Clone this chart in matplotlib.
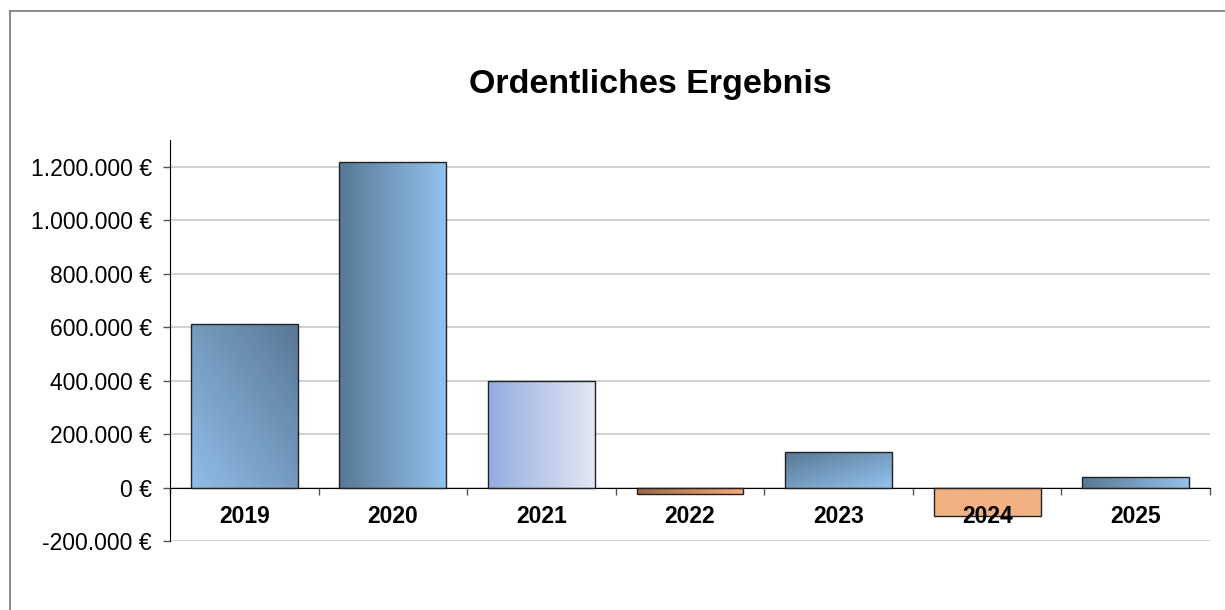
import matplotlib
matplotlib.use('Agg')
import matplotlib.pyplot as plt
import matplotlib.colors as mc
import numpy as np
from matplotlib.lines import Line2D
from matplotlib.ticker import FuncFormatter, MultipleLocator

plt.rcParams['font.family'] = ['Liberation Sans', 'DejaVu Sans']

# data
years = ['2019', '2020', '2021', '2022', '2023', '2024', '2025']
ergebnis = [612000, 1216000, 400000, -25000, 133000, -108000, 40000]

# gradient per bar: (start colour, end colour, direction dx, dy)
# direction points from start colour to end colour
fills = [
    ('#8fbde6', '#5a7898', (1, 1)),
    ('#587896', '#92c2ec', (1, 0)),
    ('#92ade0', '#e2e7f3', (1, 0)),
    ('#9a6a48', '#f8aa7a', (1, 0)),
    ('#587896', '#92c2ec', (1, -1)),
    ('#f2b183', '#f2b183', (1, 0)),
    ('#587896', '#92c2ec', (1, 0)),
]


def euro_fmt(v, pos):
    s = '{:,.0f}'.format(v).replace(',', '.')
    return s + ' \u20ac'


def gradient_image(c0, c1, direction, n=64):
    # t runs 0..1 along the direction, image row 0 is the top
    u = np.linspace(0, 1, n)
    xx, yy = np.meshgrid(u, u[::-1])
    dx, dy = direction
    t = xx * dx + yy * dy
    t = (t - t.min()) / max(t.max() - t.min(), 1e-9)
    a = np.array(mc.to_rgb(c0))
    b = np.array(mc.to_rgb(c1))
    return a + (b - a) * t[:, :, None]


fig = plt.figure(figsize=[12.25, 6.1], dpi=100)
ax = fig.add_axes([170 / 1225, 1 - 541 / 610, 1040 / 1225, 401 / 610])

x = np.arange(len(years))
bars = ax.bar(x, ergebnis, width=0.72, facecolor='none',
              edgecolor='#222222', linewidth=1.0, zorder=3)

for bar, (c0, c1, d) in zip(bars, fills):
    x0 = bar.get_x()
    x1 = x0 + bar.get_width()
    y0 = min(0, bar.get_height())
    y1 = max(0, bar.get_height())
    im = ax.imshow(gradient_image(c0, c1, d), extent=(x0, x1, y0, y1),
                   aspect='auto', interpolation='bilinear', zorder=2)
    im.set_clip_path(bar)

ax.set_xlim(-0.5, len(years) - 0.5)
ax.set_ylim(-200000, 1300000)
ax.yaxis.set_major_locator(MultipleLocator(200000))
ax.yaxis.set_major_formatter(FuncFormatter(euro_fmt))
ax.set_yticks(np.arange(-200000, 1200001, 200000))
ax.set_axisbelow(True)
ax.grid(axis='y', color='#c8c8c8', linewidth=1.2)
ax.tick_params(axis='y', direction='out', length=5, width=1, color='#555555',
               pad=8, labelsize=16.5)

# category boundary ticks on the zero line, labels drawn separately
ax.set_xticks(np.arange(-0.5, len(years), 1.0))
ax.set_xticklabels([])
ax.tick_params(axis='x', direction='out', length=5, width=1, color='#555555')
for i, lbl in enumerate(years):
    ax.annotate(lbl, (i, 0), xytext=(0, -29), textcoords='offset pixels',
                ha='center', va='center', fontsize=16.5, fontweight='bold',
                zorder=5, annotation_clip=False)

ax.spines['bottom'].set_position(('data', 0))
ax.spines['bottom'].set_color('black')
ax.spines['left'].set_color('black')
ax.spines['top'].set_visible(False)
ax.spines['right'].set_visible(False)

fig.text(650 / 1225, 1 - 84 / 610, 'Ordentliches Ergebnis', ha='center',
         va='center', fontsize=24.5, fontweight='bold')

# chart area border (left and top)
fig.add_artist(Line2D([10 / 1225, 10 / 1225], [0, 1 - 11 / 610],
                      transform=fig.transFigure, color='#808080', linewidth=1.3))
fig.add_artist(Line2D([10 / 1225, 1], [1 - 11 / 610, 1 - 11 / 610],
                      transform=fig.transFigure, color='#808080', linewidth=1.3))

fig.savefig('out.png', dpi=100)
